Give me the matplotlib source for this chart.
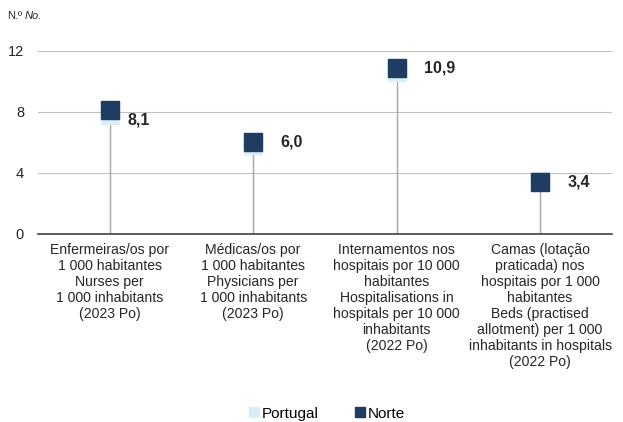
import numpy as np
import matplotlib.pyplot as plt

plt.rcParams['font.family'] = ['Liberation Sans', 'DejaVu Sans']

# Data
categories = [
    "Enfermeiras/os por\n1 000 habitantes\nNurses per\n1 000 inhabitants\n(2023 Po)",
    "Médicas/os por\n1 000 habitantes\nPhysicians per\n1 000 inhabitants\n(2023 Po)",
    "Internamentos nos\nhospitais por 10 000\nhabitantes\nHospitalisations in\nhospitals per 10 000\ninhabitants\n(2022 Po)",
    "Camas (lotação\npraticada) nos\nhospitais por 1 000\nhabitantes\nBeds (practised\nallotment) per 1 000\ninhabitants in hospitals\n(2022 Po)",
]
portugal = [7.8, 5.8, 10.6, 3.5]
norte = [8.1, 6.0, 10.9, 3.4]
labels = ["8,1", "6,0", "10,9", "3,4"]
yticks = [0, 4, 8, 12]

fig = plt.figure(figsize=(6.23, 4.22), dpi=100)
ax = fig.add_axes([0.061, 0.4455, 0.921, 0.434])

x = np.arange(len(categories))

# drop lines
ax.vlines(x, 0, norte, color='#a6a6a6', lw=1, zorder=1)

ax.plot(x, portugal, 's', color='#daeef8', ms=12.5, zorder=2, label='Portugal')
ax.plot(x, norte, 's', color='#1f3d63', ms=12.5, zorder=3, label='Norte')

# label offsets (points); first one sits lower, clear of the gridline
offs = [(13, -7), (19.5, 0), (19.5, 0), (19.5, 0)]
for xi, v, t, (dx, dy) in zip(x, norte, labels, offs):
    ax.annotate(t, (xi, v), xytext=(dx, dy), textcoords='offset points',
                ha='left', va='center', fontsize=11.5, fontweight='bold', color='#262626')

ax.set_xlim(-0.5, len(categories) - 0.5)
ax.set_ylim(0, 12)
ax.set_yticks(yticks)
ax.set_yticklabels([str(t) for t in yticks], fontsize=10.5, color='#262626')
ax.grid(axis='y', color='#bfbfbf', lw=0.8)
ax.set_axisbelow(True)

ax.set_xticks(x)
ax.set_xticklabels(categories, fontsize=10.1, color='#262626', va='top', linespacing=1.18)
ax.tick_params(axis='x', length=0, pad=6.5)
ax.tick_params(axis='y', length=0, pad=10)

for s in ['top', 'right', 'left']:
    ax.spines[s].set_visible(False)
ax.spines['bottom'].set_color('#404040')
ax.spines['bottom'].set_linewidth(1.2)

fig.text(0.011, 0.962, "N.º", fontsize=8, color='#262626', ha='left', va='center')
fig.text(0.040, 0.962, "No.", fontsize=8, style='italic', color='#262626', ha='left', va='center')

ax.legend(loc='center', bbox_to_anchor=(0.525, 0.02), bbox_transform=fig.transFigure,
          ncol=2, frameon=False, fontsize=11, handlelength=0.6, handletextpad=0.2,
          columnspacing=2.4, markerscale=0.6)

fig.savefig('out.png', dpi=100)
